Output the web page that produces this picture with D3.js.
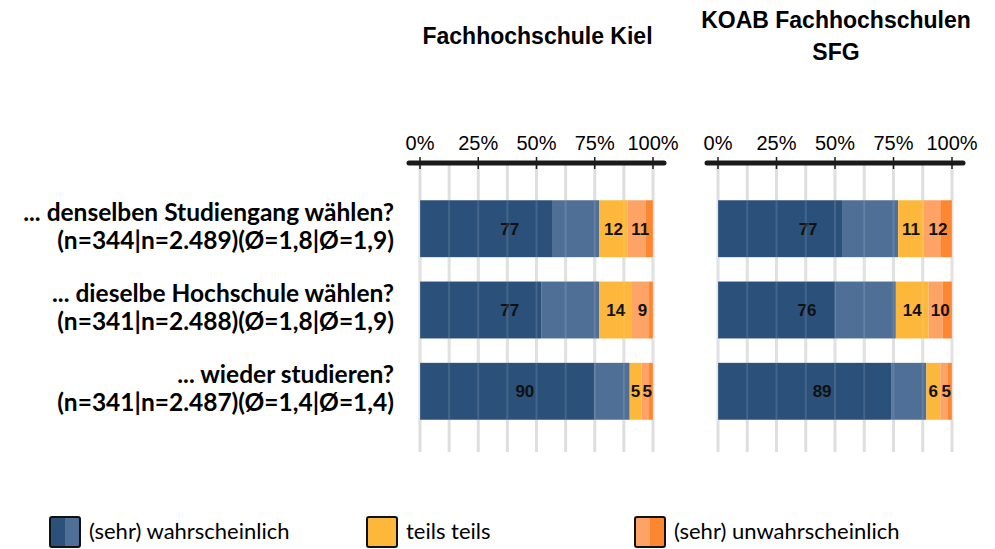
<!DOCTYPE html>
<html>
<head>
<meta charset="utf-8">
<script src="https://cdn.jsdelivr.net/npm/d3@7"></script>
<style>
  body { margin: 0; background: #fff; }
  svg { display: block; }
  .arial { font-family: Arial, "Liberation Sans", Helvetica, sans-serif; }
  .cal { font-family: Lato, "Open Sans", sans-serif; }
</style>
</head>
<body>
<script>
// data (percent per answer category)
const questions = [
  ['... denselben Studiengang wählen?', '(n=344|n=2.489)(Ø=1,8|Ø=1,9)'],
  ['... dieselbe Hochschule wählen?', '(n=341|n=2.488)(Ø=1,8|Ø=1,9)'],
  ['... wieder studieren?', '(n=341|n=2.487)(Ø=1,4|Ø=1,4)']
];
const panelTitles = [['Fachhochschule Kiel'], ['KOAB Fachhochschulen', 'SFG']];
const categories = ['sehr wahrscheinlich', 'wahrscheinlich', 'teils teils', 'unwahrscheinlich', 'sehr unwahrscheinlich'];
const colors = ['#2b5079', '#4f6f97', '#fdb73b', '#fda365', '#fd8631'];

// rows: questions, columns: categories
const kielValues = [
  [57, 20, 12, 8, 3],
  [52, 25, 14, 7, 2],
  [75, 15, 5, 3, 2]
];
const koabValues = [
  [53, 24, 11, 7, 5],
  [50, 26, 14, 6, 4],
  [74, 15, 6, 3, 2]
];
// shown labels: (sehr) wahrscheinlich | teils teils | (sehr) unwahrscheinlich
const kielLabels = [[77, 12, 11], [77, 14, 9], [90, 5, 5]];
const koabLabels = [[77, 11, 12], [76, 14, 10], [89, 6, 5]];

const tickValues = [0, 25, 50, 75, 100];
const gridValues = [0, 12.5, 25, 37.5, 50, 62.5, 75, 87.5, 100];

const legendItems = [
  { label: '(sehr) wahrscheinlich', cols: [0, 1] },
  { label: 'teils teils', cols: [2, 2] },
  { label: '(sehr) unwahrscheinlich', cols: [3, 4] }
];

const width = 995;
const height = 549;

const svg = d3.select('body').append('svg')
  .attr('width', width)
  .attr('height', height);

const y = d3.scaleBand()
  .domain(d3.range(questions.length))
  .range([184, 436])
  .paddingInner(0.3)
  .paddingOuter(0.2);

const panels = [
  { title: panelTitles[0], values: kielValues, labels: kielLabels, range: [420, 653], titleY: [44] },
  { title: panelTitles[1], values: koabValues, labels: koabLabels, range: [718, 952], titleY: [28, 60] }
];

panels.forEach((p) => {
  const x = d3.scaleLinear().domain([0, 100]).range(p.range);
  const g = svg.append('g');

  // panel title
  p.title.forEach((t, i) => {
    g.append('text')
      .attr('class', 'arial')
      .attr('x', (p.range[0] + p.range[1]) / 2 + 1)
      .attr('y', p.titleY[i])
      .attr('text-anchor', 'middle')
      .attr('font-size', 23)
      .attr('font-weight', 'bold')
      .text(t);
  });

  // grid behind
  g.append('g').selectAll('line')
    .data(gridValues)
    .join('line')
      .attr('x1', d => x(d)).attr('x2', d => x(d))
      .attr('y1', 163).attr('y2', 452)
      .attr('stroke', '#dedede')
      .attr('stroke-width', 3);

  // stacked bars
  p.values.forEach((row, ri) => {
    const stack = d3.cumsum(row);
    const rowG = g.append('g');
    rowG.selectAll('rect')
      .data(row)
      .join('rect')
        .attr('x', (d, i) => x(stack[i] - d))
        .attr('width', d => x(d) - x(0))
        .attr('y', y(ri))
        .attr('height', y.bandwidth())
        .attr('fill', (d, i) => colors[i]);

    // label positions: center of each grouped part
    const groups = [[0, 2], [2, 3], [3, 5]];
    groups.forEach((gr, gi) => {
      const start = gr[0] === 0 ? 0 : stack[gr[0] - 1];
      const end = stack[gr[1] - 1];
      rowG.append('text')
        .attr('class', 'arial')
        .attr('x', x((start + end) / 2))
        .attr('y', y(ri) + y.bandwidth() / 2 + 6)
        .attr('text-anchor', 'middle')
        .attr('font-size', 17)
        .attr('font-weight', 'bold')
        .attr('fill', '#111')
        .text(p.labels[ri][gi]);
    });
  });

  // faint grid over the bars
  g.append('g').selectAll('line')
    .data(gridValues)
    .join('line')
      .attr('x1', d => x(d)).attr('x2', d => x(d))
      .attr('y1', y(0)).attr('y2', y(questions.length - 1) + y.bandwidth())
      .attr('stroke', '#fff')
      .attr('stroke-opacity', 0.12)
      .attr('stroke-width', 2);

  // top axis
  g.append('line')
    .attr('x1', x(0) - 11).attr('x2', x(100) + 11)
    .attr('y1', 163).attr('y2', 163)
    .attr('stroke', '#1a1a1a')
    .attr('stroke-width', 5)
    .attr('stroke-linecap', 'round');

  g.append('g').selectAll('line')
    .data(tickValues)
    .join('line')
      .attr('x1', d => x(d)).attr('x2', d => x(d))
      .attr('y1', 157).attr('y2', 169)
      .attr('stroke', '#1a1a1a')
      .attr('stroke-width', 1.5);

  g.append('g').selectAll('text')
    .data(tickValues)
    .join('text')
      .attr('class', 'arial')
      .attr('x', d => x(d))
      .attr('y', 150)
      .attr('text-anchor', 'middle')
      .attr('font-size', 20)
      .text(d => d + '%');
});

// row labels
const labelG = svg.append('g');
questions.forEach((q, i) => {
  const cy = y(i) + y.bandwidth() / 2;
  q.forEach((line, li) => {
    labelG.append('text')
      .attr('class', 'cal')
      .attr('x', 394)
      .attr('y', cy + (li === 0 ? -8 : 20))
      .attr('text-anchor', 'end')
      .attr('font-size', 24.5)
      .attr('font-weight', 'bold')
      .text(line);
  });
});

// legend
const legendX = [50, 367, 635];
legendItems.forEach((item, i) => {
  const lg = svg.append('g').attr('transform', `translate(${legendX[i]},517)`);
  lg.append('rect').attr('x', 0).attr('y', 0).attr('width', 15).attr('height', 30)
    .attr('fill', colors[item.cols[0]]);
  lg.append('rect').attr('x', 15).attr('y', 0).attr('width', 15).attr('height', 30)
    .attr('fill', colors[item.cols[1]]);
  lg.append('rect').attr('x', 0).attr('y', 0).attr('width', 30).attr('height', 30)
    .attr('rx', 2)
    .attr('fill', 'none')
    .attr('stroke', '#111')
    .attr('stroke-width', 2);
  lg.append('text')
    .attr('class', 'cal')
    .attr('x', 39)
    .attr('y', 22)
    .attr('font-size', 22)
    .text(item.label);
});
</script>
</body>
</html>
